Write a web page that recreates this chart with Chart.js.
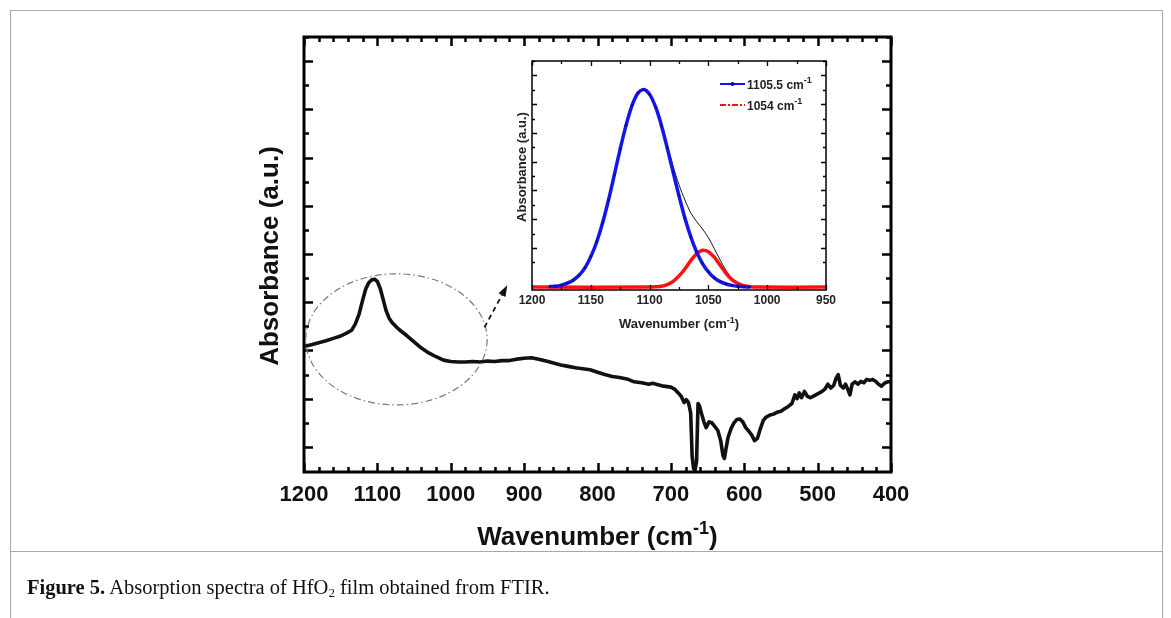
<!DOCTYPE html>
<html>
<head>
<meta charset="utf-8">
<script src="https://cdn.jsdelivr.net/npm/chart.js@4.4.0/dist/chart.umd.min.js"></script>
<style>
body { margin: 0; background: #fff; }
#wrap { position: relative; width: 1171px; height: 618px; overflow: hidden; background: #fff; }
#main { position: absolute; left: 0; top: 0; }
#inset { position: absolute; left: 490px; top: 50px; }
.rule { position: absolute; background: #a8a8a8; }
#caption { position: absolute; left: 27px; top: 576px; font-family: 'Liberation Serif', 'Times New Roman', serif;
  font-size: 20.5px; color: #111; white-space: nowrap; }
#caption sub { font-size: 13px; vertical-align: -3px; line-height: 0; }
</style>
</head>
<body>
<div id="wrap">
  <div class="rule" style="left:10px; top:10px; width:1153px; height:1px;"></div>
  <div class="rule" style="left:10px; top:10px; width:1px; height:610px;"></div>
  <div class="rule" style="left:1162px; top:10px; width:1px; height:610px;"></div>
  <div class="rule" style="left:10px; top:551px; width:1153px; height:1px;"></div>
  <canvas id="main" width="1171" height="618"></canvas>
  <canvas id="inset" width="350" height="300"></canvas>
  <div id="caption"><b>Figure 5.</b> Absorption spectra of HfO<sub>2</sub> film obtained from FTIR.</div>
</div>
<script>
// ** DATA: ** //

// main FTIR spectrum (wavenumber in cm-1, absorbance in a.u.)
var mainWavenumber = [1200, 1190, 1180, 1170, 1160, 1150, 1142, 1135, 1130, 1125, 1120, 1116, 1112, 1108, 1104,
	1100, 1096, 1092, 1088, 1084, 1080, 1075, 1070, 1060, 1050, 1040, 1030, 1020, 1010, 1000,
	990, 980, 970, 960, 950, 940, 930, 920, 910, 900, 890, 880, 870, 860, 850, 840, 830, 820, 810, 800,
	790, 780, 770, 760, 750, 740, 730, 725, 720, 710, 700, 695, 690, 686, 682, 679, 676, 673, 671, 669,
	667, 665, 663, 661, 658, 655, 652, 648, 644, 640, 636, 632, 629, 627, 625, 622, 618, 614, 610, 606,
	602, 598, 594, 590, 586, 582, 578, 574, 570, 565, 560, 555, 550, 545, 540, 535, 531, 528, 525, 522,
	518, 514, 510, 505, 500, 495, 490, 486, 482, 478, 475, 472, 469, 465, 462, 459, 456, 453, 449, 445,
	441, 437, 433, 429, 425, 421, 417, 413, 408, 404, 400];
var mainAbsorbance = [2.08, 2.12, 2.16, 2.20, 2.25, 2.30, 2.36, 2.42, 2.55, 2.75, 3.05, 3.27, 3.40, 3.46, 3.48,
	3.43, 3.28, 3.05, 2.82, 2.67, 2.58, 2.50, 2.43, 2.31, 2.18, 2.05, 1.95, 1.87, 1.80, 1.77,
	1.76, 1.76, 1.77, 1.76, 1.78, 1.77, 1.79, 1.79, 1.82, 1.84, 1.85, 1.82, 1.78, 1.74, 1.70, 1.67, 1.64, 1.62, 1.60, 1.55,
	1.50, 1.46, 1.44, 1.41, 1.35, 1.33, 1.30, 1.32, 1.30, 1.26, 1.24, 1.20, 1.12, 1.05, 0.92, 0.98, 0.92, 0.70, -0.20, -0.45,
	-0.48, -0.30, 0.90, 0.85, 0.68, 0.52, 0.40, 0.52, 0.50, 0.42, 0.34, 0.12, -0.18, -0.24, -0.05, 0.20, 0.38, 0.50, 0.57, 0.58,
	0.52, 0.40, 0.33, 0.25, 0.13, 0.18, 0.38, 0.55, 0.62, 0.66, 0.68, 0.72, 0.74, 0.79, 0.84, 0.90, 1.08, 1.00, 1.12, 1.02,
	1.15, 1.05, 1.02, 1.06, 1.10, 1.14, 1.20, 1.30, 1.22, 1.28, 1.42, 1.50, 1.28, 1.22, 1.30, 1.20, 1.08, 1.30, 1.35, 1.30,
	1.36, 1.33, 1.40, 1.38, 1.40, 1.36, 1.30, 1.26, 1.33, 1.35, 1.35];
var mainTickLabels = ['1200', '1100', '1000', '900', '800', '700', '600', '500', '400'];

// inset: deconvolution of the 1100 cm-1 band
var blueWavenumber = [1185, 1180, 1175, 1170, 1165, 1160, 1155, 1150, 1145, 1140, 1135, 1130, 1125, 1120, 1115, 1110,
	1105, 1100, 1095, 1090, 1085, 1080, 1075, 1070, 1065, 1060, 1055, 1050, 1045, 1040, 1035, 1030, 1025, 1020, 1015];
var blueAbsorbance = [-0.34, -0.33, -0.29, -0.22, -0.12, 0.05, 0.31, 0.70, 1.21, 1.87, 2.66, 3.54, 4.44, 5.27, 5.95, 6.38,
	6.51, 6.34, 5.91, 5.27, 4.48, 3.64, 2.81, 2.04, 1.39, 0.86, 0.46, 0.17, -0.04, -0.17, -0.25, -0.30, -0.33, -0.35, -0.36];
var redWavenumber = [1200, 1100, 1095, 1090, 1085, 1080, 1075, 1070, 1065, 1060, 1055, 1050, 1045, 1040, 1035, 1030,
	1025, 1020, 1015, 1010, 950];
var redAbsorbance = [-0.36, -0.36, -0.35, -0.33, -0.27, -0.16, 0.03, 0.27, 0.56, 0.80, 0.92, 0.87, 0.68, 0.40, 0.12, -0.10,
	-0.23, -0.31, -0.34, -0.36, -0.36];
var sumWavenumber = [1180, 1175, 1170, 1165, 1160, 1155, 1150, 1145, 1140, 1135, 1130, 1125, 1120, 1115, 1110, 1105,
	1100, 1095, 1090, 1085, 1080, 1075, 1070, 1065, 1060, 1055, 1050, 1045, 1040, 1035, 1030, 1025, 1020, 1015, 1010, 950];
var sumAbsorbance = [-0.33, -0.29, -0.22, -0.12, 0.05, 0.31, 0.70, 1.21, 1.87, 2.66, 3.54, 4.44, 5.27, 5.95, 6.38, 6.51,
	6.34, 5.92, 5.30, 4.57, 3.84, 3.20, 2.67, 2.22, 1.92, 1.66, 1.36, 0.98, 0.58, 0.22, -0.05, -0.20, -0.30, -0.34, -0.36, -0.36];
var insetTickLabels = ['1200', '1150', '1100', '1050', '1000', '950'];
var legendLabels = ['1105.5 cm', '1054 cm'];

// ** FUNCTIONS: ** //

var FONT = 'Arial, "Liberation Sans", Helvetica, sans-serif';

function toPoints(xs, ys) {
	var pts = [];
	for (var i = 0; i < xs.length; i++) {
		pts.push({x: xs[i], y: ys[i]});
	}
	return pts;
}

function isStep(v, step) {
	var r = v / step;
	return Math.abs(r - Math.round(r)) < 1e-6;
}

// frame + inward ticks on all four sides
var framePlugin = {
	id: 'frame',
	afterDatasetsDraw: function(chart, args, o) {
		var ctx = chart.ctx, a = chart.chartArea;
		var xs = chart.scales.x, ys = chart.scales.y;
		ctx.save();
		ctx.strokeStyle = '#000';
		ctx.lineWidth = o.tickWidth;
		ctx.beginPath();
		xs.ticks.forEach(function(t) {
			if (!isStep(t.value, o.xMinor)) return;
			var len = isStep(t.value, o.xMajor) ? o.major : o.minor;
			var px = Math.round(xs.getPixelForValue(t.value)) + 0.5;
			ctx.moveTo(px, a.bottom); ctx.lineTo(px, a.bottom - len);
			ctx.moveTo(px, a.top); ctx.lineTo(px, a.top + len);
		});
		ys.ticks.forEach(function(t) {
			if (!isStep(t.value, o.yMinor)) return;
			var len = isStep(t.value, o.yMajor) ? o.major : o.minor;
			var py = Math.round(ys.getPixelForValue(t.value)) + 0.5;
			ctx.moveTo(a.left, py); ctx.lineTo(a.left + len, py);
			ctx.moveTo(a.right, py); ctx.lineTo(a.right - len, py);
		});
		ctx.stroke();
		ctx.lineWidth = o.frameWidth;
		ctx.strokeRect(a.left, a.top, a.right - a.left, a.bottom - a.top);
		ctx.restore();
	}
};

function drawUnitTitle(ctx, cx, baseline, size, color) {
	var main = 'Wavenumber (cm', sup = '-1', close = ')';
	var f = 'bold ' + size + 'px ' + FONT;
	var fs = 'bold ' + Math.round(size * 0.68) + 'px ' + FONT;
	ctx.font = f;
	var w1 = ctx.measureText(main).width, w3 = ctx.measureText(close).width;
	ctx.font = fs;
	var w2 = ctx.measureText(sup).width;
	var x = cx - (w1 + w2 + w3) / 2;
	ctx.fillStyle = color;
	ctx.textAlign = 'left';
	ctx.textBaseline = 'alphabetic';
	ctx.font = f; ctx.fillText(main, x, baseline); x += w1;
	ctx.font = fs; ctx.fillText(sup, x, baseline - size * 0.42); x += w2;
	ctx.font = f; ctx.fillText(close, x, baseline);
}

function drawRotated(ctx, text, x, y, size, color) {
	ctx.save();
	ctx.translate(x, y);
	ctx.rotate(-Math.PI / 2);
	ctx.font = 'bold ' + size + 'px ' + FONT;
	ctx.fillStyle = color;
	ctx.textAlign = 'center';
	ctx.textBaseline = 'middle';
	ctx.fillText(text, 0, 0);
	ctx.restore();
}

// titles, the dash-dot ellipse and the dashed arrow of the main chart
var mainDecor = {
	id: 'mainDecor',
	afterDraw: function(chart) {
		var ctx = chart.ctx, xs = chart.scales.x, ys = chart.scales.y;
		ctx.save();
		// ellipse around the 1100 band
		var cx = xs.getPixelForValue(1074), cy = ys.getPixelForValue(2.23);
		var rx = Math.abs(xs.getPixelForValue(1074 + 123.6) - cx);
		var ry = Math.abs(ys.getPixelForValue(2.23 + 1.36) - cy);
		ctx.strokeStyle = '#7a7a7a';
		ctx.lineWidth = 1.2;
		ctx.setLineDash([7, 3, 1.5, 3]);
		ctx.beginPath();
		ctx.ellipse(cx, cy, rx, ry, 0, 0, Math.PI * 2);
		ctx.stroke();
		// arrow to the inset
		var x0 = xs.getPixelForValue(954), y0 = ys.getPixelForValue(2.48);
		var x1 = xs.getPixelForValue(923), y1 = ys.getPixelForValue(3.35);
		var ang = Math.atan2(y1 - y0, x1 - x0);
		ctx.strokeStyle = '#111';
		ctx.lineWidth = 1.8;
		ctx.setLineDash([5, 4]);
		ctx.beginPath();
		ctx.moveTo(x0, y0);
		ctx.lineTo(x1 - 8 * Math.cos(ang), y1 - 8 * Math.sin(ang));
		ctx.stroke();
		ctx.setLineDash([]);
		ctx.fillStyle = '#111';
		ctx.beginPath();
		ctx.moveTo(x1, y1);
		ctx.lineTo(x1 - 11 * Math.cos(ang) + 4 * Math.sin(ang), y1 - 11 * Math.sin(ang) - 4 * Math.cos(ang));
		ctx.lineTo(x1 - 11 * Math.cos(ang) - 4 * Math.sin(ang), y1 - 11 * Math.sin(ang) + 4 * Math.cos(ang));
		ctx.closePath();
		ctx.fill();
		ctx.restore();
		drawRotated(ctx, 'Absorbance (a.u.)', 271, 256, 26, '#111');
		drawUnitTitle(ctx, (chart.chartArea.left + chart.chartArea.right) / 2, 545, 26, '#111');
	}
};

// titles and legend of the inset
var insetDecor = {
	id: 'insetDecor',
	afterDraw: function(chart) {
		var ctx = chart.ctx, a = chart.chartArea;
		drawRotated(ctx, 'Absorbance (a.u.)', 32, 117, 13, '#222');
		drawUnitTitle(ctx, (a.left + a.right) / 2, 278, 13, '#222');
		var rows = [
			{text: legendLabels[0], color: '#1414f0', dash: [], dot: true, y: 34},
			{text: legendLabels[1], color: '#ff1010', dash: [6, 2, 2, 2], dot: false, y: 55}
		];
		ctx.save();
		rows.forEach(function(r) {
			ctx.strokeStyle = r.color;
			ctx.lineWidth = 2;
			ctx.setLineDash(r.dash);
			ctx.beginPath();
			ctx.moveTo(230, r.y); ctx.lineTo(255, r.y);
			ctx.stroke();
			ctx.setLineDash([]);
			if (r.dot) {
				ctx.fillStyle = '#10108a';
				ctx.beginPath();
				ctx.arc(242.5, r.y, 2, 0, Math.PI * 2);
				ctx.fill();
			}
			ctx.fillStyle = '#222';
			ctx.textAlign = 'left';
			ctx.textBaseline = 'alphabetic';
			ctx.font = 'bold 12px ' + FONT;
			ctx.fillText(r.text, 257, r.y + 4.5);
			var w = ctx.measureText(r.text).width;
			ctx.font = 'bold 9px ' + FONT;
			ctx.fillText('-1', 257 + w, r.y - 1);
		});
		ctx.restore();
	}
};

function generateMain(canvasID) {
	var canvas = document.getElementById(canvasID);
	return new Chart(canvas, {
		type: 'line',
		data: {
			datasets: [{
				data: toPoints(mainWavenumber, mainAbsorbance),
				borderColor: '#111',
				borderWidth: 3.6,
				pointRadius: 0,
				tension: 0,
				borderJoinStyle: 'round'
			}]
		},
		options: {
			responsive: false,
			animation: false,
			layout: {padding: {left: 0, top: 37, right: 280, bottom: 86}},
			plugins: {
				legend: {display: false},
				tooltip: {enabled: false},
				frame: {frameWidth: 3, tickWidth: 2.5, major: 9, minor: 5, xMajor: 100, xMinor: 20, yMajor: 1, yMinor: 0.5}
			},
			scales: {
				x: {
					type: 'linear', reverse: true, min: 400, max: 1200,
					grid: {display: false, drawTicks: false},
					border: {display: false},
					ticks: {
						stepSize: 20, autoSkip: false, maxRotation: 0, padding: 10, color: '#111',
						font: {family: FONT, size: 22, weight: 'bold'},
						callback: function(v) {
							var s = String(v);
							return mainTickLabels.indexOf(s) >= 0 ? s : '';
						}
					},
					afterFit: function(s) { s.height = 60; }
				},
				y: {
					min: -0.52, max: 8.5,
					grid: {display: false, drawTicks: false},
					border: {display: false},
					ticks: {display: false, stepSize: 0.5},
					afterFit: function(s) { s.width = 304; }
				}
			}
		},
		plugins: [framePlugin, mainDecor]
	});
}

function generateInset(canvasID) {
	var canvas = document.getElementById(canvasID);
	return new Chart(canvas, {
		type: 'line',
		data: {
			datasets: [{
				data: toPoints(blueWavenumber, blueAbsorbance),
				borderColor: '#1414f0',
				borderWidth: 3.5,
				pointRadius: 1.4,
				pointBackgroundColor: '#10108a',
				pointBorderWidth: 0,
				tension: 0.3
			}, {
				data: toPoints(redWavenumber, redAbsorbance),
				borderColor: '#ff1010',
				borderWidth: 3.5,
				pointRadius: 0,
				tension: 0.3
			}, {
				data: toPoints(sumWavenumber, sumAbsorbance),
				borderColor: '#111',
				borderWidth: 1,
				pointRadius: 0,
				tension: 0.3
			}]
		},
		options: {
			responsive: false,
			animation: false,
			layout: {padding: {left: 0, top: 11, right: 14, bottom: 10}},
			plugins: {
				legend: {display: false},
				tooltip: {enabled: false},
				frame: {frameWidth: 1.5, tickWidth: 1.3, major: 5, minor: 3, xMajor: 50, xMinor: 25, yMajor: 1, yMinor: 0.5}
			},
			scales: {
				x: {
					type: 'linear', reverse: true, min: 950, max: 1200,
					grid: {display: false, drawTicks: false},
					border: {display: false},
					ticks: {
						stepSize: 25, autoSkip: false, maxRotation: 0, padding: 3, color: '#222',
						font: {family: FONT, size: 12, weight: 'bold'},
						callback: function(v) {
							var s = String(v);
							return insetTickLabels.indexOf(s) >= 0 ? s : '';
						}
					},
					afterFit: function(s) { s.height = 50; }
				},
				y: {
					min: -0.46, max: 7.5,
					grid: {display: false, drawTicks: false},
					border: {display: false},
					ticks: {display: false, stepSize: 0.5},
					afterFit: function(s) { s.width = 42; }
				}
			}
		},
		plugins: [framePlugin, insetDecor]
	});
}

// ** ENTRY POINT: ** //

generateMain('main');
generateInset('inset');
</script>
</body>
</html>
